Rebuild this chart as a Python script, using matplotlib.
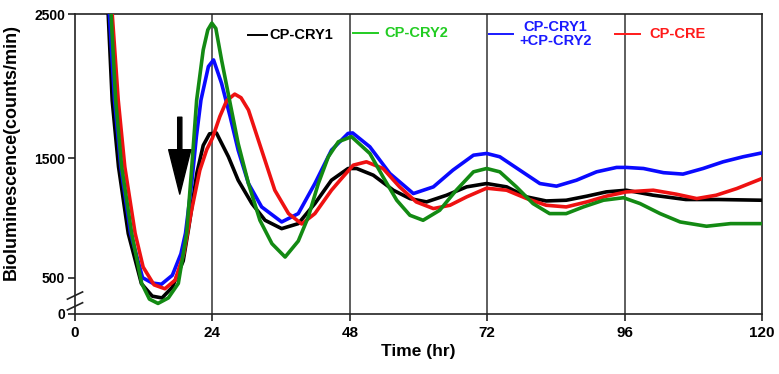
import numpy as np
import matplotlib
matplotlib.use("Agg")
import matplotlib.pyplot as plt

plt.rcParams['font.family'] = ['Liberation Sans', 'DejaVu Sans']
plt.rcParams['font.weight'] = 'bold'

# ---------------- data ----------------
t_cry1 = [5.0, 5.8, 6.5, 7.6, 9.3, 11.6, 13.5, 15.2, 17.0, 18.9, 19.8, 20.5, 21.3, 22.4, 23.5,
          24.7, 26.8, 28.5, 30.9, 33.2, 36.1, 39.0, 41.9, 44.8, 47.7, 49.2, 52.1, 55.6, 58.5,
          61.4, 64.9, 68.4, 71.9, 75.4, 78.9, 82.3, 85.8, 89.4, 92.8, 96.3, 101.0, 106.7,
          112.5, 120.0]
v_cry1 = [2800, 2500, 1900, 1430, 870, 450, 345, 330, 420, 640, 900, 1120, 1380, 1590, 1670,
          1676, 1511, 1317, 1121, 981, 911, 953, 1121, 1317, 1415, 1415, 1359, 1233, 1163,
          1135, 1191, 1261, 1289, 1261, 1177, 1143, 1149, 1183, 1219, 1233, 1191, 1155,
          1155, 1149]

t_cry2 = [5.5, 6.3, 7.1, 8.15, 9.9, 11.65, 13.0, 14.5, 16.3, 18.05, 19.5, 20.4, 21.25, 22.4,
          23.2, 23.9, 24.6, 25.6, 27.1, 28.5, 30.3, 32.3, 34.4, 36.7, 39.0, 40.75, 42.5,
          44.25, 46.0, 48.3, 51.5, 53.8, 56.2, 58.5, 60.8, 63.7, 66.6, 69.6, 71.9, 74.2,
          77.1, 80.0, 82.9, 85.8, 88.8, 92.3, 95.8, 98.7, 102.2, 105.7, 110.3, 114.5, 120.0]
v_cry2 = [2800, 2500, 1904, 1429, 872, 452, 320, 284, 330, 452, 872, 1429, 1904, 2252,
          2390, 2437, 2400, 2182, 1881, 1603, 1289, 981, 785, 673, 807, 1009, 1289,
          1511, 1615, 1650, 1534, 1345, 1149, 1023, 981, 1065, 1233, 1387, 1415, 1387,
          1261, 1121, 1037, 1037, 1093, 1149, 1170, 1121, 1037, 967, 931, 953, 953]

t_both = [5.3, 6.0, 6.9, 8.0, 9.7, 11.8, 13.5, 15.1, 17.0, 18.5, 19.3, 20.4, 21.2, 22.0, 23.3,
          24.2, 25.6, 27.1, 28.5, 30.3, 32.6, 36.1, 39.0, 41.9, 44.8, 47.7, 48.5, 51.5, 55.0,
          59.1, 62.6, 66.0, 69.6, 71.9, 74.2, 77.7, 81.2, 84.1, 87.6, 91.1, 94.6, 96.3,
          99.3, 102.8, 106.2, 109.7, 113.2, 116.7, 120.0]
v_both = [2800, 2500, 1904, 1429, 872, 500, 455, 445, 520, 700, 872, 1300, 1650, 1904, 2136,
          2182, 2020, 1789, 1557, 1289, 1093, 967, 1037, 1289, 1557, 1673, 1676, 1580, 1373,
          1205, 1261, 1401, 1522, 1534, 1511, 1401, 1289, 1267, 1317, 1387, 1424, 1424,
          1415, 1380, 1368, 1415, 1471, 1511, 1538]

t_cre = [5.8, 6.5, 7.55, 8.7, 10.5, 11.9, 13.8, 15.7, 17.5, 19.0, 20.3, 21.8, 23.0, 24.0, 25.3,
         26.5, 27.9, 29.0, 30.3, 32.6, 34.9, 37.3, 39.6, 41.9, 44.8, 46.3, 48.6, 50.9, 53.8,
         56.7, 59.6, 62.6, 65.5, 68.4, 71.9, 75.4, 78.9, 82.3, 85.8, 89.4, 92.8, 96.3,
         101.0, 105.0, 108.6, 112.0, 115.6, 120.0]
v_cre = [2800, 2500, 1904, 1429, 872, 589, 440, 407, 480, 700, 1050, 1400, 1560, 1640, 1790,
         1900, 1945, 1920, 1835, 1557, 1233, 1037, 950, 1037, 1233, 1317, 1443, 1471, 1415,
         1261, 1135, 1079, 1107, 1177, 1250, 1233, 1163, 1107, 1093, 1135, 1183, 1219,
         1233, 1200, 1163, 1191, 1247, 1331]

x_ticks = [0, 24, 48, 72, 96, 120]
y_ticks = [0, 500, 1500, 2500]
y_ticklabels = ['0', '500', '1500', '2500']
series_names = ['CP-CRY1', 'CP-CRY2', 'CP-CRY1\n+CP-CRY2', 'CP-CRE']


# ---------------- piecewise (broken) y scale ----------------
def fwd(v):
    v = np.asarray(v, dtype=float)
    return np.where(v <= 250, v * 6.0 / 250.0,
                    np.where(v <= 1500, 6.0 + (v - 250.0) * 0.119,
                             154.75 + (v - 1500.0) * 0.144))


def inv(h):
    h = np.asarray(h, dtype=float)
    return np.where(h <= 6.0, h * 250.0 / 6.0,
                    np.where(h <= 154.75, 250.0 + (h - 6.0) / 0.119,
                             1500.0 + (h - 154.75) / 0.144))


W, H = 779, 374
fig = plt.figure(figsize=(W / 100, H / 100), dpi=100)
ax = fig.add_axes([75 / W, 1 - 313.5 / H, 687 / W, 299.5 / H])
ax.set_yscale('function', functions=(fwd, inv))
ax.set_xlim(0, 120)
ax.set_ylim(0, 2500)

for xv in x_ticks[1:-1]:
    ax.axvline(xv, color='#333333', lw=1.1, zorder=1)

lw = 2.6
ax.plot(t_cry1, v_cry1, color='#000000', lw=lw, zorder=3, solid_joinstyle='round')
ax.plot(t_both, v_both, color='#0a0aff', lw=lw, zorder=3, solid_joinstyle='round')
ax.plot(t_cre, v_cre, color='#ee1111', lw=lw, zorder=3, solid_joinstyle='round')
ax.plot(t_cry2, v_cry2, color='#138a13', lw=lw, zorder=3, solid_joinstyle='round')

for s in ax.spines.values():
    s.set_linewidth(1.2)
    s.set_color('#222222')

ax.set_xticks(x_ticks)
ax.set_xticklabels([str(x) for x in x_ticks], fontsize=11, fontweight='bold')
ax.set_yticks(y_ticks)
ax.set_yticklabels(y_ticklabels, fontsize=10, fontweight='bold')
ax.yaxis.set_minor_locator(matplotlib.ticker.NullLocator())
ax.tick_params(axis='both', direction='out', length=5, width=1.2, color='#222222')
ax.tick_params(axis='x', pad=4)
ax.tick_params(axis='y', pad=2)

ax.set_xlabel('Time (hr)', fontsize=12.5, fontweight='bold', labelpad=3)
ax.set_ylabel('Bioluminescence(counts/min)', fontsize=13, fontweight='bold')
ax.yaxis.set_label_coords(-0.08, 0.54)

# axis break marks
for yb in (0.060, 0.024):
    ax.plot([-0.011, 0.011], [yb - 0.012, yb + 0.012], transform=ax.transAxes,
            color='#222222', lw=1.2, clip_on=False, zorder=5)

# arrow
ax.annotate('', xy=(18.3, 1200), xytext=(18.3, 1785), xycoords='data',
            arrowprops=dict(arrowstyle='simple,head_length=3.2,head_width=1.6,tail_width=0.3',
                            mutation_scale=10, color='black', shrinkA=0, shrinkB=0),
            zorder=6)

# legend (manual, as in reference)
leg_colors = ['#000000', '#22cc22', '#1a1aff', '#ff1a1a']
line_x = [(0.252, 0.279), (0.405, 0.441), (0.603, 0.638), (0.786, 0.822)]
line_y = [0.930, 0.937, 0.933, 0.933]
txt_x = [0.283, 0.451, 0.699, 0.836]
for i, name in enumerate(series_names):
    ax.plot(line_x[i], [line_y[i], line_y[i]], transform=ax.transAxes,
            color=leg_colors[i], lw=1.4, clip_on=False, zorder=7)
    if i == 2:
        ax.text(txt_x[i], line_y[i], name, transform=ax.transAxes, ha='center',
                va='center', fontsize=10.5, fontweight='bold', color=leg_colors[i],
                linespacing=1.05, zorder=7)
    else:
        ax.text(txt_x[i], line_y[i], name, transform=ax.transAxes, ha='left',
                va='center', fontsize=10.5, fontweight='bold', color=leg_colors[i],
                zorder=7)

fig.savefig('out.png', dpi=100)
